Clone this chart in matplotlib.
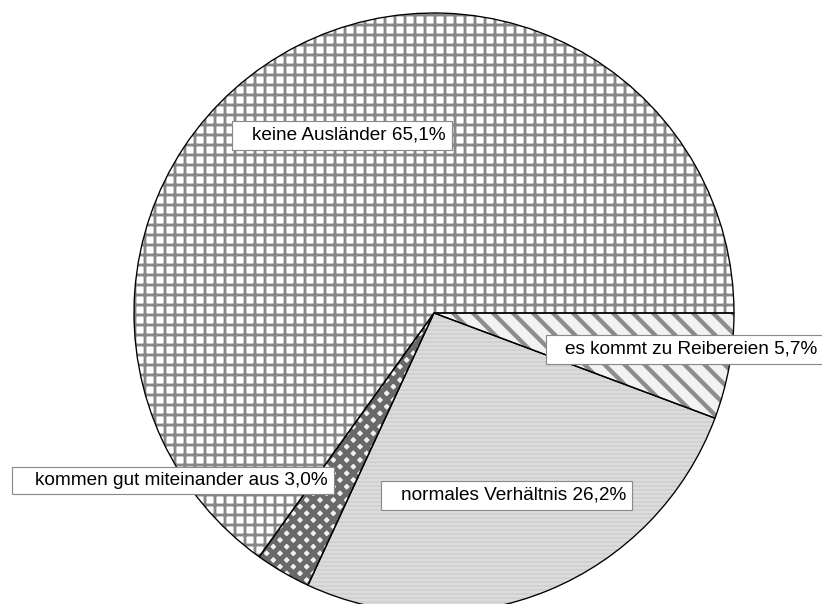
import matplotlib
matplotlib.use('Agg')
import matplotlib.pyplot as plt
from matplotlib.patches import Rectangle

# ---- data ----
categories = ['es kommt zu Reibereien', 'normales Verhältnis',
              'kommen gut miteinander aus', 'keine Ausländer']
shares = [5.7, 26.2, 3.0, 65.1]
share_labels = ['5,7%', '26,2%', '3,0%', '65,1%']

# ---- layout ----
W, H, DPI = 822, 604, 120
fig = plt.figure(figsize=(W / DPI, H / DPI), dpi=DPI)
ax = fig.add_axes([0, 0, 1, 1])

cx, cy, R = 434, H - 313, 300

styles = [
    dict(face='#f2f2f2', hatch='\\\\', hcol='#8c8c8c', hlw=2.6),
    dict(face='#dcdcdc', hatch='-----', hcol='#c8c8c8', hlw=0.6),
    dict(face='#f0f0f0', hatch='xxx', hcol='#696969', hlw=3.0),
    dict(face='white', hatch='++', hcol='#878787', hlw=1.7),
]

wedges, _ = ax.pie(shares, startangle=0, counterclock=False,
                   center=(cx, cy), radius=R, frame=True)
for w, st in zip(wedges, styles):
    w.set_facecolor(st['face'])
    w.set_edgecolor(st['hcol'])
    w.set_hatch(st['hatch'])
    w.set_linewidth(0)
    if hasattr(w, 'set_hatch_linewidth'):
        w.set_hatch_linewidth(st['hlw'])
    else:
        w._hatch_linewidth = st['hlw']

ax.pie(shares, startangle=0, counterclock=False, center=(cx, cy),
       radius=R, frame=True,
       wedgeprops=dict(fill=False, edgecolor='black', linewidth=0.8))

# label boxes (x0, y0, x1, y1) in top-down pixel coordinates
boxes = [
    (546, 335, 823, 364),
    (381, 481, 632, 510),
    (12, 467, 334, 494),
    (232, 121, 452, 150),
]
for cat, lab, (x0, y0, x1, y1) in zip(categories, share_labels, boxes):
    ax.add_patch(Rectangle((x0, H - y1), x1 - x0, y1 - y0, facecolor='white',
                           edgecolor='#8a8a8a', linewidth=0.7, zorder=5))
    ax.text(x1 - 6, H - (y0 + y1) / 2, f'{cat} {lab}', ha='right', va='center',
            fontsize=11.4, family='Liberation Sans', color='black', zorder=6)

ax.set_xlim(0, W)
ax.set_ylim(0, H)
ax.set_aspect('auto')
ax.axis('off')

fig.savefig('out.png', dpi=DPI, facecolor='white')
